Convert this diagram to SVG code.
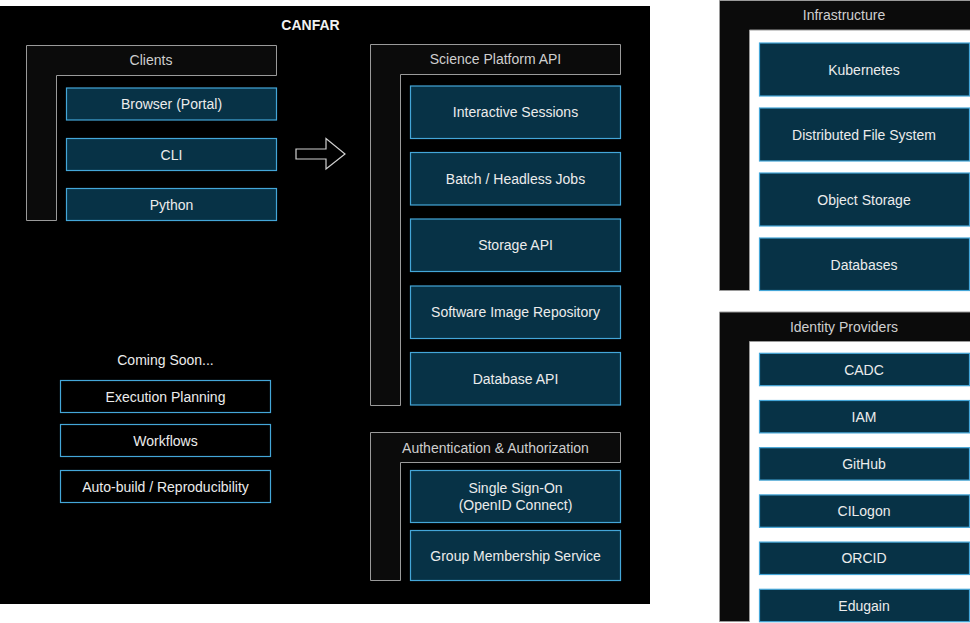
<svg xmlns="http://www.w3.org/2000/svg" width="970" height="623" viewBox="0 0 970 623">
<style>
text{font-family:"Liberation Sans",Arial,sans-serif;font-size:14px;text-anchor:middle;dominant-baseline:central}
.grp{fill:#0b0b0b;stroke:#9a9a9a;stroke-width:1}
.hdr{fill:#cfcfcf}
.item rect{fill:#073246;stroke:#44a6d8;stroke-width:1.2}
.item text{fill:#ececec}
.soon rect{fill:#000;stroke:#44a6d8;stroke-width:1.2}
.soon text{fill:#ececec}
</style>
<rect x="0" y="0" width="970" height="623" fill="#fff"/>
<g id="canfar">
<rect x="0" y="6" width="650" height="598" fill="#000"/>
<text x="310.5" y="25" style="font-weight:bold;fill:#f2f2f2">CANFAR</text>
</g>
<g id="clients">
<path class="grp" d="M26.5,45.5H276.5V75.5H56.5V220.5H26.5Z"/>
<text class="hdr" x="151" y="60">Clients</text>
</g>
<g id="browser" class="item"><rect x="66.5" y="88" width="210" height="32"/><text x="171.5" y="104">Browser (Portal)</text></g>
<g id="cli" class="item"><rect x="66.5" y="138.5" width="210" height="32"/><text x="171.5" y="154.5">CLI</text></g>
<g id="python" class="item"><rect x="66.5" y="188.5" width="210" height="32"/><text x="171.5" y="204.5">Python</text></g>
<g id="connectors">
<polygon points="296,149 326,149 326,138.5 345,154 326,169 326,159 296,159" fill="none" stroke="#d0d0d0" stroke-width="1.2"/>
</g>
<g id="spapi">
<path class="grp" d="M370.5,44.5H620.5V74.5H400.5V405.5H370.5Z"/>
<text class="hdr" x="495.5" y="59">Science Platform API</text>
</g>
<g id="interactive" class="item"><rect x="410.5" y="86" width="210" height="52.5"/><text x="515.5" y="112">Interactive Sessions</text></g>
<g id="batch" class="item"><rect x="410.5" y="152.5" width="210" height="52.5"/><text x="515.5" y="178.5">Batch / Headless Jobs</text></g>
<g id="storage" class="item"><rect x="410.5" y="219" width="210" height="52.5"/><text x="515.5" y="245">Storage API</text></g>
<g id="software" class="item"><rect x="410.5" y="286" width="210" height="52.5"/><text x="515.5" y="312">Software Image Repository</text></g>
<g id="database" class="item"><rect x="410.5" y="352.5" width="210" height="52.5"/><text x="515.5" y="379">Database API</text></g>
<g id="auth">
<path class="grp" d="M370.5,432.5H620.5V462.5H400.5V580.5H370.5Z"/>
<text class="hdr" x="495.5" y="448">Authentication &amp; Authorization</text>
</g>
<g id="sso" class="item"><rect x="410.5" y="470.5" width="210" height="52"/><text x="515.5" y="488">Single Sign-On</text><text x="515.5" y="505">(OpenID Connect)</text></g>
<g id="gms" class="item"><rect x="410.5" y="530.5" width="210" height="50"/><text x="515.5" y="555.5">Group Membership Service</text></g>
<g id="coming">
<text x="165.5" y="360" style="fill:#ececec">Coming Soon...</text>
</g>
<g id="execution" class="soon"><rect x="60.5" y="380.5" width="210" height="32"/><text x="165.5" y="396.5">Execution Planning</text></g>
<g id="workflows" class="soon"><rect x="60.5" y="424.5" width="210" height="32"/><text x="165.5" y="440.5">Workflows</text></g>
<g id="autobuild" class="soon"><rect x="60.5" y="470.5" width="210" height="32"/><text x="165.5" y="486.5">Auto-build / Reproducibility</text></g>
<g id="infra">
<path class="grp" d="M719.5,0.5H970.5V30H749.5V290.5H719.5Z"/>
<text class="hdr" x="844" y="15">Infrastructure</text>
</g>
<g id="kubernetes" class="item"><rect x="759.5" y="43" width="210" height="53"/><text x="864" y="69.5">Kubernetes</text></g>
<g id="dfs" class="item"><rect x="759.5" y="108" width="210" height="53"/><text x="864" y="134.5">Distributed File System</text></g>
<g id="objstore" class="item"><rect x="759.5" y="173" width="210" height="53"/><text x="864" y="199.5">Object Storage</text></g>
<g id="databases" class="item"><rect x="759.5" y="238" width="210" height="52.5"/><text x="864" y="264.5">Databases</text></g>
<g id="idp">
<path class="grp" d="M719.5,312H970.5V341.5H749.5V621.5H719.5Z"/>
<text class="hdr" x="844" y="327">Identity Providers</text>
</g>
<g id="cadc" class="item"><rect x="759.5" y="353.3" width="210" height="32.4"/><text x="864" y="369.5">CADC</text></g>
<g id="iam" class="item"><rect x="759.5" y="400.5" width="210" height="32.4"/><text x="864" y="416.7">IAM</text></g>
<g id="github" class="item"><rect x="759.5" y="447.7" width="210" height="32.4"/><text x="864" y="463.9">GitHub</text></g>
<g id="cilogon" class="item"><rect x="759.5" y="494.9" width="210" height="32.4"/><text x="864" y="511.1">CILogon</text></g>
<g id="orcid" class="item"><rect x="759.5" y="542.1" width="210" height="32.4"/><text x="864" y="558.3">ORCID</text></g>
<g id="edugain" class="item"><rect x="759.5" y="589.3" width="210" height="32.4"/><text x="864" y="605.5">Edugain</text></g>
</svg>
